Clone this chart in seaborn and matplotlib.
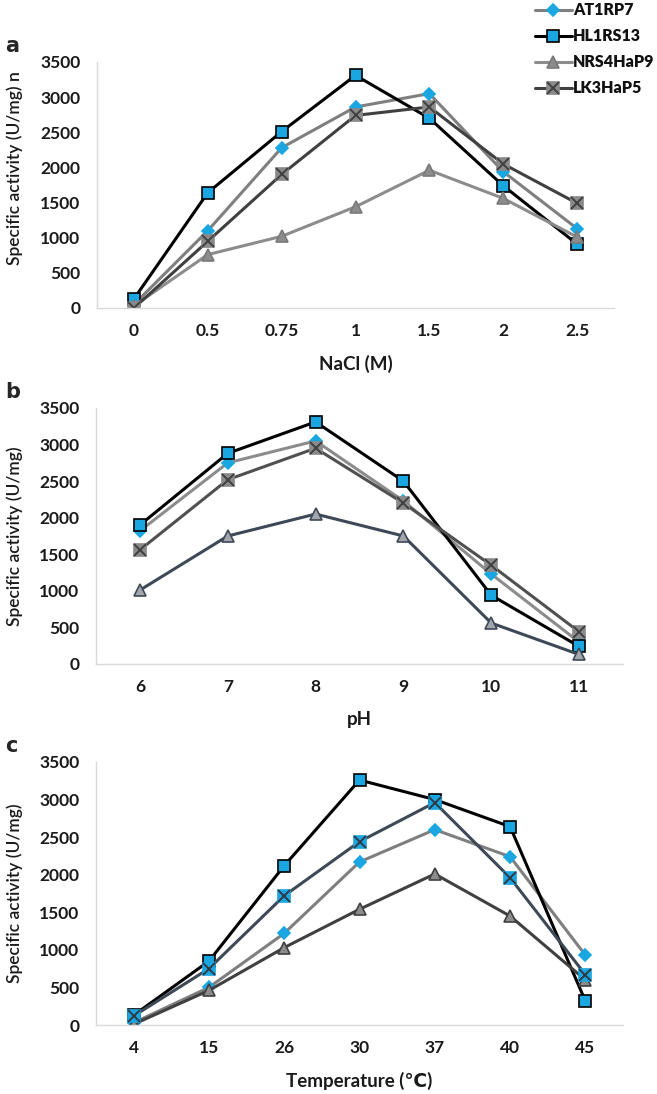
import numpy as np
import pandas as pd
import matplotlib
matplotlib.use("Agg")
import matplotlib.pyplot as plt
import seaborn as sns
from matplotlib.legend_handler import HandlerTuple

# Values
strains = ["AT1RP7", "HL1RS13", "NRS4HaP9", "LK3HaP5"]

nacl_levels = ["0", "0.5", "0.75", "1", "1.5", "2", "2.5"]
nacl_at1rp7 = [50, 1100, 2280, 2860, 3050, 1940, 1130]
nacl_hl1rs13 = [130, 1640, 2510, 3310, 2700, 1740, 910]
nacl_nrs4hap9 = [30, 760, 1020, 1440, 1960, 1560, 1010]
nacl_lk3hap5 = [0, 950, 1900, 2740, 2860, 2050, 1490]

ph_levels = ["6", "7", "8", "9", "10", "11"]
ph_at1rp7 = [1820, 2750, 3050, 2230, 1230, 300]
ph_hl1rs13 = [1900, 2880, 3310, 2500, 940, 240]
ph_nrs4hap9 = [1010, 1750, 2050, 1750, 560, 130]
ph_lk3hap5 = [1560, 2520, 2950, 2200, 1350, 440]

temp_levels = ["4", "15", "26", "30", "37", "40", "45"]
temp_at1rp7 = [30, 500, 1220, 2170, 2600, 2240, 930]
temp_hl1rs13 = [130, 850, 2120, 3260, 3000, 2640, 320]
temp_nrs4hap9 = [10, 460, 1030, 1540, 2010, 1450, 600]
temp_lk3hap5 = [120, 750, 1720, 2440, 2960, 1960, 670]

sns.set_style("white")
plt.rcParams["font.family"] = ["Lato", "DejaVu Sans"]

BLUE = "#1aa6e0"

# per-panel styles: (line colour, marker, face, edge, size, x overlay)
styles_a = {
    "AT1RP7": ("#7f7f7f", "D", BLUE, BLUE, 6, False),
    "HL1RS13": ("#000000", "s", BLUE, "#000000", 9, False),
    "NRS4HaP9": ("#8c8c8c", "^", "#8c8c8c", "#7a7a7a", 8, False),
    "LK3HaP5": ("#404040", "s", "#8a8a8a", "#8a8a8a", 9, True),
}
styles_b = {
    "AT1RP7": ("#8c8c8c", "D", BLUE, BLUE, 6, False),
    "HL1RS13": ("#000000", "s", BLUE, "#000000", 9, False),
    "NRS4HaP9": ("#3e4958", "^", "#a3a7ad", "#3e4958", 8, False),
    "LK3HaP5": ("#505050", "s", "#8a8a8a", "#8a8a8a", 9, True),
}
styles_c = {
    "AT1RP7": ("#7f7f7f", "D", BLUE, BLUE, 6, False),
    "HL1RS13": ("#000000", "s", BLUE, "#000000", 9, False),
    "NRS4HaP9": ("#404040", "^", "#8c8c8c", "#404040", 8, False),
    "LK3HaP5": ("#3e4958", "s", BLUE, BLUE, 9, True),
}

W, H = 657, 1094
panels = [
    ("a", nacl_levels, [nacl_at1rp7, nacl_hl1rs13, nacl_nrs4hap9, nacl_lk3hap5],
     styles_a, "NaCl (M)", "Specific activity (U/mg) n", (97, 614, 62, 308), 0.57),
    ("b", ph_levels, [ph_at1rp7, ph_hl1rs13, ph_nrs4hap9, ph_lk3hap5],
     styles_b, "pH", "Specific activity (U/mg)", (96, 623, 408, 664), 0.5),
    ("c", temp_levels, [temp_at1rp7, temp_hl1rs13, temp_nrs4hap9, temp_lk3hap5],
     styles_c, "Temperature (\u2103)", "Specific activity (U/mg)", (96, 623, 762, 1025), 0.5),
]

fig = plt.figure(figsize=(W / 100, H / 100), dpi=100)
legend_handles = None

for letter, levels, series, styles, xlab, ylab, box, ylab_y in panels:
    x0, x1, y0, y1 = box
    ax = fig.add_axes([x0 / W, 1 - y1 / H, (x1 - x0) / W, (y1 - y0) / H])
    handles = []
    for name, vals in zip(strains, series):
        lc, mk, mf, me, ms, overlay = styles[name]
        df = pd.DataFrame({"x": levels, "y": vals})
        sns.lineplot(data=df, x="x", y="y", ax=ax, sort=False, color=lc,
                     linewidth=2.2, marker=mk, markersize=ms,
                     markerfacecolor=mf, markeredgecolor=me,
                     markeredgewidth=1.2, legend=False)
        main = ax.lines[-1]
        if overlay:
            sns.lineplot(data=df, x="x", y="y", ax=ax, sort=False,
                         linestyle="none", marker="x", markersize=ms - 1,
                         markeredgecolor="#303a46" if mf == BLUE else "#404040",
                         markeredgewidth=1.4, color=lc, legend=False)
            handles.append((main, ax.lines[-1]))
        else:
            handles.append(main)
    if legend_handles is None:
        legend_handles = handles

    ax.set_xlim(-0.5, len(levels) - 0.5)
    ax.set_ylim(0, 3500)
    ax.set_yticks(np.arange(0, 3501, 500))
    sns.despine(ax=ax)
    for side in ["left", "bottom"]:
        ax.spines[side].set_color("#d9d9d9")
        ax.spines[side].set_linewidth(1.0)
    ax.tick_params(length=0, labelsize=12.5)
    ax.tick_params(axis="y", pad=12)
    ax.tick_params(axis="x", pad=11)
    for t in ax.get_xticklabels() + ax.get_yticklabels():
        t.set_fontweight("bold")
        t.set_color("#1a1a1a")
    ax.set_xlabel(xlab, fontsize=13.5, fontweight="bold", labelpad=11, color="#1a1a1a")
    ax.set_ylabel(ylab, fontsize=12.5, color="#1a1a1a", fontweight="semibold")
    ax.yaxis.set_label_coords(-(x0 - 23) / (x1 - x0), ylab_y)
    fig.text(5 / W, 1 - (y0 - 16) / H, letter, fontsize=15, fontweight="bold",
             family=["DejaVu Sans"], va="center", ha="left")

fig.legend(legend_handles, strains,
           handler_map={tuple: HandlerTuple(ndivide=1)},
           loc="upper right", bbox_to_anchor=(1.0, 1.0), frameon=False,
           prop={"weight": "heavy", "size": 11.5}, handlelength=2.3,
           handletextpad=0.1, labelspacing=0.62, borderaxespad=0.0,
           borderpad=0.15, labelcolor="#111111")

fig.savefig("out.png", dpi=100)
